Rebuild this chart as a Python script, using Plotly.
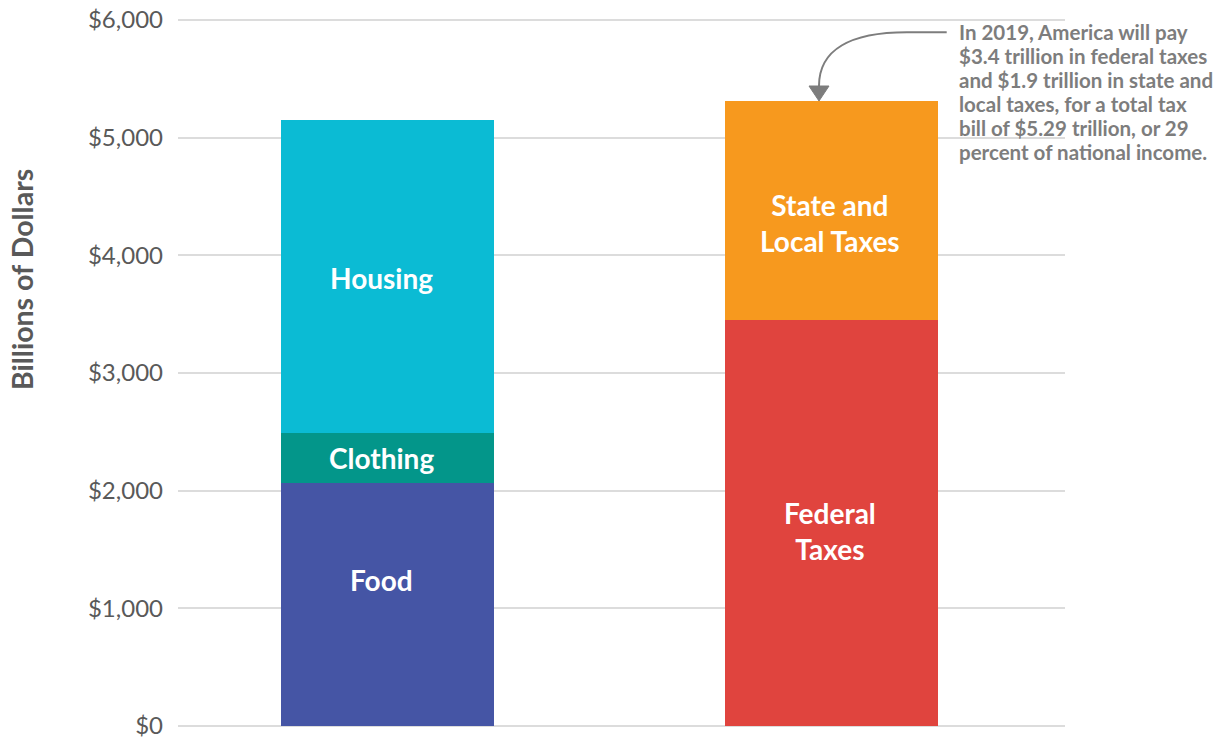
import plotly.graph_objects as go

# ---- data ----
categories = ["Spending", "Taxes"]
spending_series = ["Food", "Clothing", "Housing"]
spending_values = [2066, 425, 2656]          # billions of dollars
tax_series = ["Federal Taxes", "State and Local Taxes"]
tax_values = [3448, 1862]
tick_vals = [0, 1000, 2000, 3000, 4000, 5000, 6000]
tick_text = ["$0", "$1,000", "$2,000", "$3,000", "$4,000", "$5,000", "$6,000"]
note_lines = [
    "In 2019, America will pay",
    "$3.4 trillion in federal taxes",
    "and $1.9 trillion in state and",
    "local taxes, for a total tax",
    "bill of $5.29 trillion, or 29",
    "percent of national income.",
]

# ---- styles ----
spend_colors = ["#4555a5", "#03968a", "#0bbbd4"]
tax_colors = ["#e0443e", "#f7991e"]
spend_labels = ["Food", "Clothing", "Housing"]
spend_label_y = [1241, 2278, 3807]
tax_labels = ["Federal<br>Taxes", "State and<br>Local Taxes"]
tax_label_y = [1657, 4275]
FONT = "Lato"

fig = go.Figure()
for name, val, col in zip(spending_series, spending_values, spend_colors):
    fig.add_trace(go.Bar(x=[categories[0]], y=[val], name=name,
                         marker=dict(color=col, line=dict(width=0)),
                         width=0.48, hoverinfo="skip"))
for name, val, col in zip(tax_series, tax_values, tax_colors):
    fig.add_trace(go.Bar(x=[categories[1]], y=[val], name=name,
                         marker=dict(color=col, line=dict(width=0)),
                         width=0.48, hoverinfo="skip"))

annotations = []
for lab, y in zip(spend_labels, spend_label_y):
    annotations.append(dict(x=categories[0], y=y, xref="x", yref="y", text=lab,
                            showarrow=False, xshift=-6,
                            font=dict(family=FONT, size=28, color="white", weight="bold")))
for lab, y in zip(tax_labels, tax_label_y):
    annotations.append(dict(x=categories[1], y=y, xref="x", yref="y", text=lab,
                            showarrow=False, xshift=-1,
                            font=dict(family=FONT, size=28, color="white", weight="bold")))

# plot area: 2px padding above $6,000 and below $0 so edge gridlines are drawn
plot_top_px, plot_bot_px, plot_left_px, plot_w = 18, 728, 178, 887
units_per_px = 6000 / 706
pad = 2 * units_per_px


def px(xp, yp):
    return (xp - plot_left_px) / plot_w, (plot_bot_px - yp) / (plot_bot_px - plot_top_px)


# note text lines
for i, line in enumerate(note_lines):
    nx, ny = px(957, 32 + 24 * i)
    annotations.append(dict(x=nx, y=ny, xref="paper", yref="paper",
                            xanchor="left", yanchor="middle",
                            text=line, showarrow=False,
                            font=dict(family=FONT, size=20.5, color="#7d7d7d", weight="bold")))

# y-axis title
tx, ty = px(22, 280)
annotations.append(dict(x=tx, y=ty, xref="paper", yref="paper", textangle=-90,
                        xanchor="center", yanchor="middle", showarrow=False,
                        text="Billions of Dollars",
                        font=dict(family=FONT, size=28.5, color="#595959", weight="bold")))

p0 = px(946.7, 32.3)
p1 = px(907, 32.3)
c1 = px(850, 32.3)
c2 = px(819, 50)
p2 = px(819, 86)
path = (f"M {p0[0]} {p0[1]} L {p1[0]} {p1[1]} "
        f"C {c1[0]} {c1[1]} {c2[0]} {c2[1]} {p2[0]} {p2[1]}")
t_tip = px(819, 101)
t_l = px(809, 86)
t_r = px(829, 86)
tri = f"M {t_l[0]} {t_l[1]} L {t_r[0]} {t_r[1]} L {t_tip[0]} {t_tip[1]} Z"

shapes = [
    dict(type="path", path=path, xref="paper", yref="paper",
         line=dict(color="#7d7d7d", width=2)),
    dict(type="path", path=tri, xref="paper", yref="paper",
         line=dict(color="#7d7d7d", width=1), fillcolor="#7d7d7d"),
]

fig.update_layout(
    barmode="stack",
    width=1220, height=738,
    margin=dict(l=178, r=155, t=plot_top_px, b=738 - plot_bot_px, autoexpand=False),
    paper_bgcolor="white", plot_bgcolor="white",
    showlegend=False,
    font=dict(family=FONT),
    xaxis=dict(range=[-0.472, 1.526], showticklabels=False, showgrid=False,
               zeroline=False, showline=False, ticks="", automargin=False),
    yaxis=dict(range=[-pad, 6000 + pad], tickvals=tick_vals, ticktext=tick_text,
               showgrid=True, gridcolor="#dcdcdc", gridwidth=1.5,
               zeroline=False, showline=False, ticks="", automargin=False,
               ticklabelstandoff=14, ticklabeloverflow="allow",
               tickfont=dict(family=FONT, size=24, color="#595959")),
    annotations=annotations,
    shapes=shapes,
)

fig.write_html("out.html", config={"displayModeBar": False},
               post_script="document.body.style.margin='0';document.body.style.overflow='hidden';")
